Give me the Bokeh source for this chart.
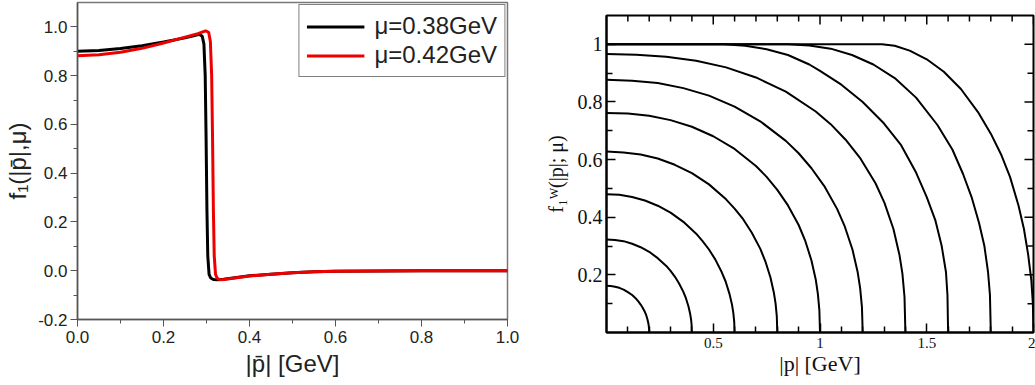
from bokeh.plotting import figure
from bokeh.layouts import row
from bokeh.models import FixedTicker, Range1d
from bokeh.embed import file_html
from bokeh.resources import INLINE

# ---------------- Left panel data ----------------
mu_labels = ["μ=0.38GeV", "μ=0.42GeV"]
p_black = [0.0, 0.05, 0.1, 0.15, 0.2, 0.25, 0.27, 0.283, 0.29, 0.294, 0.297, 0.299, 0.301, 0.303,
           0.306, 0.31, 0.316, 0.325, 0.34, 0.37, 0.4, 0.45, 0.5, 0.55, 0.6, 0.7, 0.8, 0.9, 1.0]
f_black = [0.900, 0.903, 0.911, 0.923, 0.938, 0.955, 0.963, 0.970, 0.962, 0.93, 0.80, 0.55, 0.25, 0.06,
           -0.015, -0.030, -0.036, -0.037, -0.035, -0.028, -0.021, -0.014, -0.008, -0.004, -0.002,
           -0.001, 0.0, 0.0, 0.0]
p_red = [0.0, 0.05, 0.1, 0.15, 0.2, 0.25, 0.28, 0.298, 0.305, 0.309, 0.312, 0.314, 0.316, 0.318,
         0.321, 0.325, 0.331, 0.34, 0.37, 0.4, 0.45, 0.5, 0.55, 0.6, 0.7, 0.8, 0.9, 1.0]
f_red = [0.882, 0.886, 0.896, 0.912, 0.934, 0.958, 0.972, 0.984, 0.978, 0.94, 0.80, 0.55, 0.25, 0.06,
         -0.015, -0.031, -0.037, -0.036, -0.029, -0.022, -0.014, -0.008, -0.004, -0.002, -0.001,
         0.0, 0.0, 0.0]
left_xticks = [0.0, 0.2, 0.4, 0.6, 0.8, 1.0]
left_xminor = [0.1, 0.3, 0.5, 0.7, 0.9]
left_yticks = [-0.2, 0.0, 0.2, 0.4, 0.6, 0.8, 1.0]
left_yminor = [-0.1, 0.1, 0.3, 0.5, 0.7, 0.9]

# ---------------- Right panel data ----------------
w1_p = [0, .02, .04, .06, .08, .10, .12, .14, .15, .16, .17, .18, .186, .192, .196, .198, .1994, .2]
w1_f = [0.162, 0.161, 0.159, 0.155, 0.149, 0.140, 0.130, 0.116, 0.107, 0.097, 0.085, 0.071, 0.060,
        0.045, 0.032, 0.023, 0.012, 0.0]
w2_p = [0, .04, .08, .12, .16, .2, .24, .28, .3, .32, .34, .36, .372, .384, .392, .396, .3988, .4]
w2_f = [0.323, 0.321, 0.317, 0.308, 0.296, 0.280, 0.258, 0.231, 0.214, 0.194, 0.170, 0.141, 0.119,
        0.090, 0.064, 0.046, 0.025, 0.0]
w3_p = [0, .06, .12, .18, .24, .3, .36, .42, .45, .48, .51, .54, .558, .576, .588, .594, .5982, .6]
w3_f = [0.480, 0.478, 0.470, 0.458, 0.440, 0.416, 0.384, 0.343, 0.317, 0.288, 0.253, 0.209, 0.177,
        0.134, 0.096, 0.068, 0.037, 0.0]
w4_p = [0, .08, .16, .24, .32, .4, .48, .56, .6, .64, .68, .72, .744, .768, .784, .792, .7976, .8]
w4_f = [0.628, 0.625, 0.618, 0.604, 0.582, 0.553, 0.514, 0.462, 0.430, 0.393, 0.347, 0.291, 0.247,
        0.191, 0.138, 0.100, 0.057, 0.0]
w5_p = [0, .1, .2, .3, .4, .5, .6, .7, .75, .8, .85, .9, .93, .96, .98, .99, .997, 1.0]
w5_f = [0.762, 0.760, 0.752, 0.737, 0.714, 0.681, 0.637, 0.578, 0.540, 0.495, 0.441, 0.373, 0.320,
        0.250, 0.184, 0.134, 0.078, 0.0]
w6_p = [0, .12, .24, .36, .48, .6, .72, .84, .9, .96, 1.02, 1.08, 1.116, 1.152, 1.176, 1.188, 1.1964, 1.2]
w6_f = [0.877, 0.874, 0.866, 0.848, 0.822, 0.784, 0.733, 0.665, 0.622, 0.570, 0.508, 0.429, 0.368,
        0.288, 0.211, 0.154, 0.089, 0.0]
w7_p = [0, .14, .28, .42, .56, .7, .84, .98, 1.05, 1.12, 1.19, 1.26, 1.302, 1.344, 1.372, 1.386, 1.3958, 1.4]
w7_f = [0.966, 0.964, 0.957, 0.943, 0.920, 0.885, 0.836, 0.767, 0.723, 0.669, 0.603, 0.518, 0.450,
        0.359, 0.270, 0.204, 0.124, 0.0]
w8_p = [0, 0.55, 0.65, 0.75, 0.85, 0.95, 1.0, 1.1, 1.2, 1.3, 1.38, 1.45, 1.5, 1.54, 1.57, 1.59, 1.597, 1.6]
w8_f = [1.0, 1.0, 0.995, 0.983, 0.963, 0.930, 0.908, 0.860, 0.800, 0.725, 0.650, 0.555, 0.470, 0.390,
        0.300, 0.210, 0.130, 0.0]
w9_p = [0, 0.85, 0.95, 1.05, 1.15, 1.25, 1.35, 1.45, 1.55, 1.62, 1.67, 1.71, 1.745, 1.77, 1.787, 1.796, 1.8]
w9_f = [1.0, 1.0, 0.996, 0.985, 0.963, 0.930, 0.883, 0.815, 0.720, 0.635, 0.550, 0.470, 0.380, 0.300,
        0.210, 0.130, 0.0]
w10_p = [0, 1.29, 1.35, 1.42, 1.5, 1.58, 1.66, 1.74, 1.8, 1.85, 1.89, 1.93, 1.955, 1.975, 1.99, 1.997, 2.0]
w10_f = [1.0, 1.0, 0.995, 0.978, 0.948, 0.905, 0.845, 0.765, 0.690, 0.615, 0.540, 0.440, 0.360, 0.270,
         0.180, 0.100, 0.0]
right_xticks = [0.5, 1.0, 1.5, 2.0]
right_xlabels = {0.5: "0.5", 1.0: "1", 1.5: "1.5", 2.0: "2"}
right_xminor = [0.1, 0.2, 0.3, 0.4, 0.6, 0.7, 0.8, 0.9, 1.1, 1.2, 1.3, 1.4, 1.6, 1.7, 1.8, 1.9]
right_yticks = [0.2, 0.4, 0.6, 0.8, 1.0]
right_ylabels = {0.2: "0.2", 0.4: "0.4", 0.6: "0.6", 0.8: "0.8", 1.0: "1"}
right_yminor = [0.1, 0.3, 0.5, 0.7, 0.9]

# ---------------- Left figure ----------------
SANS = "Liberation Sans"
p1 = figure(width=520, height=385, x_range=Range1d(0, 1.0), y_range=Range1d(-0.2, 1.1),
            output_backend="svg", toolbar_location=None, title=None,
            min_border_left=77, min_border_right=13, min_border_top=2, min_border_bottom=66)
p1.frame_align = False
p1.grid.visible = False
p1.outline_line_color = "#777777"
p1.outline_line_width = 1.5
p1.line(p_black, f_black, line_color="black", line_width=3, legend_label=mu_labels[0])
p1.line(p_red, f_red, line_color="#ee0000", line_width=3, legend_label=mu_labels[1])

for ax in (p1.xaxis[0], p1.yaxis[0]):
    ax.axis_line_color = "#555555"
    ax.axis_line_width = 1.5
    ax.major_tick_line_color = "#555555"
    ax.minor_tick_line_color = "#555555"
    ax.major_tick_in = 0
    ax.major_tick_out = 7
    ax.minor_tick_in = 0
    ax.minor_tick_out = 4
    ax.major_label_text_font = SANS
    ax.major_label_text_font_size = "17px"
    ax.major_label_text_color = "#222222"
    ax.axis_label_text_font = SANS
    ax.axis_label_text_font_style = "normal"
    ax.axis_label_text_font_size = "24px"
    ax.axis_label_text_color = "#222222"

p1.xaxis[0].ticker = FixedTicker(ticks=left_xticks, minor_ticks=left_xminor)
p1.xaxis[0].major_label_overrides = {t: f"{t:.1f}" for t in left_xticks}
p1.xaxis[0].major_label_standoff = 4
p1.xaxis[0].axis_label = "|p\u0304| [GeV]"
p1.xaxis[0].axis_label_standoff = 4
p1.yaxis[0].ticker = FixedTicker(ticks=left_yticks, minor_ticks=left_yminor)
p1.yaxis[0].major_label_overrides = {t: f"{t:.1f}" for t in left_yticks}
p1.yaxis[0].major_label_standoff = 3
p1.yaxis[0].axis_label = "f\u2081(|p\u0304|,μ)"
p1.yaxis[0].axis_label_standoff = 4

lg = p1.legend[0]
lg.location = "top_right"
lg.margin = 2
lg.padding = 7
lg.spacing = 1
lg.border_line_color = "black"
lg.border_line_width = 1
lg.background_fill_alpha = 1
lg.glyph_width = 58
lg.glyph_height = 25
lg.label_height = 25
lg.label_standoff = 10
lg.label_text_font = SANS
lg.label_text_font_size = "24px"
lg.label_text_color = "#222222"

# ---------------- Right figure ----------------
SERIF = "Liberation Serif"
p2 = figure(width=515, height=385, x_range=Range1d(0, 2.0), y_range=Range1d(0, 1.1),
            output_backend="svg", toolbar_location=None, title=None,
            min_border_left=86, min_border_right=2, min_border_top=15, min_border_bottom=53)
p2.frame_align = False
p2.grid.visible = False
p2.outline_line_color = "black"
p2.outline_line_width = 2

for xs, ys in [(w1_p, w1_f), (w2_p, w2_f), (w3_p, w3_f), (w4_p, w4_f), (w5_p, w5_f),
               (w6_p, w6_f), (w7_p, w7_f), (w8_p, w8_f), (w9_p, w9_f), (w10_p, w10_f)]:
    p2.line(xs, ys, line_color="black", line_width=2)

# inward ticks on the top and right frame edges (tick lengths: major 9px, minor 6px)
x_top, y_top = 2.0, 1.1
dy_major, dy_minor = 9 * 1.1 / 317, 6 * 1.1 / 317
dx_major, dx_minor = 9 * 2.0 / 426, 6 * 2.0 / 426
p2.segment(x0=right_xticks, x1=right_xticks, y0=[y_top] * len(right_xticks),
           y1=[y_top - dy_major] * len(right_xticks), line_color="black", line_width=1.5)
p2.segment(x0=right_xminor, x1=right_xminor, y0=[y_top] * len(right_xminor),
           y1=[y_top - dy_minor] * len(right_xminor), line_color="black", line_width=1.5)
p2.segment(x0=[x_top] * len(right_yticks), x1=[x_top - dx_major] * len(right_yticks),
           y0=right_yticks, y1=right_yticks, line_color="black", line_width=1.5)
p2.segment(x0=[x_top] * len(right_yminor), x1=[x_top - dx_minor] * len(right_yminor),
           y0=right_yminor, y1=right_yminor, line_color="black", line_width=1.5)

p2.xaxis[0].ticker = FixedTicker(ticks=right_xticks, minor_ticks=right_xminor)
p2.yaxis[0].ticker = FixedTicker(ticks=right_yticks, minor_ticks=right_yminor)

for ax in p2.axis:
    ax.axis_line_color = "black"
    ax.axis_line_width = 2
    ax.major_tick_line_color = "black"
    ax.minor_tick_line_color = "black"
    ax.major_tick_line_width = 1.5
    ax.minor_tick_line_width = 1.5
    ax.major_tick_in = 9
    ax.major_tick_out = 0
    ax.minor_tick_in = 6
    ax.minor_tick_out = 0
    ax.major_label_text_font = SERIF
    ax.axis_label_text_font = SERIF
    ax.axis_label_text_font_style = "normal"
    ax.axis_label_text_color = "#111111"
    ax.major_label_text_color = "#111111"

bx = p2.xaxis[0]
bx.major_label_overrides = right_xlabels
bx.major_label_text_font_size = "15px"
bx.major_label_standoff = 5
bx.axis_label = "|p| [GeV]"
bx.axis_label_text_font_size = "22px"
bx.axis_label_standoff = 0

ly = p2.yaxis[0]
ly.major_label_overrides = right_ylabels
ly.major_label_text_font_size = "20px"
ly.major_label_standoff = 4
ly.axis_label = "f\u2081\u1d42(|p|; μ)"
ly.axis_label_text_font_size = "20px"
ly.axis_label_standoff = 8

layout = row(p1, p2)
open("out.html", "w").write(file_html(layout, INLINE))
